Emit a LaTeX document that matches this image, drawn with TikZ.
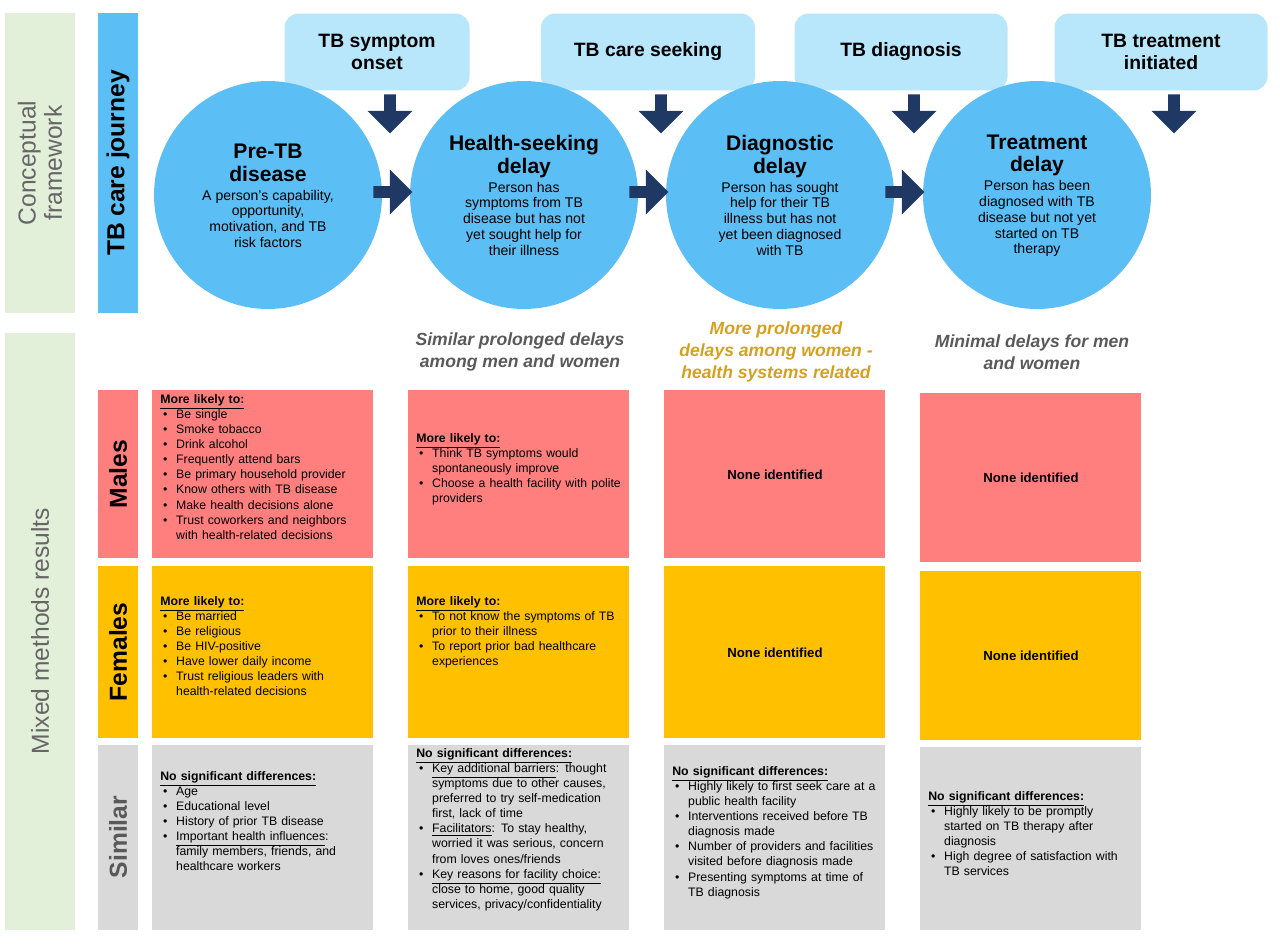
\documentclass[tikz,border=0pt]{standalone}
\usepackage{fontspec}
\setmainfont{Liberation Sans}
\usepackage{enumitem}
\usetikzlibrary{shapes.arrows}
\definecolor{sidegreen}{HTML}{E2EFD9}
\definecolor{journey}{HTML}{5BBEF5}
\definecolor{stagebox}{HTML}{B8E6FB}
\definecolor{navy}{HTML}{1F3864}
\definecolor{male}{HTML}{FF7F7F}
\definecolor{female}{HTML}{FFC000}
\definecolor{same}{HTML}{D9D9D9}
\definecolor{gold}{HTML}{D4A020}
\setlist[itemize]{nosep,leftmargin=9pt,label=\textbullet}
\tikzset{%
  band/.style    = {rotate=90, font=\fontsize{14}{15}\selectfont, text=gray!80!black, align=center},%
  rowlab/.style  = {rotate=90, font=\bfseries\fontsize{14}{15}\selectfont},%
  stage/.style   = {rounded corners=8pt, fill=stagebox, align=center,%
                    font=\bfseries\fontsize{11}{13}\selectfont},%
  phase/.style   = {circle, fill=journey, minimum size=4.56cm, inner sep=0pt, align=center,%
                    font=\fontsize{8}{9}\selectfont},%
  down/.style    = {single arrow, fill=navy, shape border rotate=270, minimum height=0.78cm,%
                    minimum width=0.9cm, single arrow head extend=0.12cm, inner sep=1pt},%
  fwd/.style     = {single arrow, fill=navy, minimum height=0.78cm,%
                    minimum width=0.9cm, single arrow head extend=0.12cm, inner sep=1pt},%
  colhead/.style = {align=center, font=\bfseries\itshape\fontsize{10}{12.5}\selectfont},%
  cell/.style    = {anchor=north west, text width=4.1cm, inner sep=0pt,%
                    font=\fontsize{7}{8.6}\selectfont},%
  none/.style    = {font=\bfseries\fontsize{7.5}{9}\selectfont}%
}
\newcommand{\hd}[1]{\textbf{\underline{#1}}}
\newcommand{\phtitle}[1]{{\bfseries\fontsize{12}{13}\selectfont\begin{tabular}{@{}c@{}}#1\end{tabular}}}
\begin{document}
\begin{tikzpicture}[x=0.02cm,y=-0.02cm]
	\useasboundingbox (0,0) rectangle (1280,944);
	% side bands
	\fill[sidegreen] (5,13) rectangle (75,313);
	\fill[sidegreen] (5,333) rectangle (75,930);
	\node[band] (cf) at (40,163) {Conceptual\\framework};
	\node[band] (mm) at (40,631) {Mixed methods results};
	\fill[journey] (98,13) rectangle (138,313);
	\node[rowlab] (tj) at (118,163) {TB care journey};
	\fill[male] (98,390) rectangle (138,558);
	\node[rowlab] (lm) at (118,474) {Males};
	\fill[female] (98,566) rectangle (138,738);
	\node[rowlab] (lf) at (118,652) {Females};
	\fill[same] (98,745) rectangle (138,930);
	\node[rowlab, text=gray!70!black] (ls) at (118,837) {Similar};
	% stages
	\foreach \x/\w/\t [count=\i] in {377/185/{TB symptom\\onset}, 648/214/TB care seeking,
	                               901/213/TB diagnosis, 1161/213/{TB treatment\\initiated}}{
		\node[stage, minimum width=\w*0.02cm, minimum height=1.54cm] (s\i) at (\x,52) {\t};
		\node[down] (d\i) at (\x+13,111) {};
	}
	% phases
	\node[phase] (p1) at (268,195) {\phtitle{Pre-TB\\disease}\\
		A person's capability,\\opportunity,\\motivation, and TB\\risk factors};
	\node[phase] (p2) at (524,195) {\phtitle{Health-seeking\\delay}\\
		Person has\\symptoms from TB\\disease but has not\\yet sought help for\\their illness};
	\node[phase] (p3) at (780,195) {\phtitle{Diagnostic\\delay}\\
		Person has sought\\help for their TB\\illness but has not\\yet been diagnosed\\with TB};
	\node[phase] (p4) at (1037,195) {\phtitle{Treatment\\delay}\\
		Person has been\\diagnosed with TB\\disease but not yet\\started on TB\\therapy};
	\node[fwd] (r1) at (390,192) {};
	\node[fwd] (r2) at (646,192) {};
	\node[fwd] (r3) at (902,192) {};
	% column headings
	\node[colhead, text=gray!70!black] (h2) at (520,352) {Similar prolonged delays\\among men and women};
	\node[colhead, text=gold] (h3) at (776,352) {More prolonged\\delays among women -\\health systems related};
	\node[colhead, text=gray!70!black] (h4) at (1032,352) {Minimal delays for men\\and women};
	% grid of cells
	\foreach \x in {152,408,664}{
		\fill[male] (\x,390) rectangle (\x+221,558);
		\fill[female] (\x,566) rectangle (\x+221,738);
		\fill[same] (\x,745) rectangle (\x+221,930);
	}
	\fill[male] (920,393) rectangle (1141,562);
	\fill[female] (920,571) rectangle (1141,740);
	\fill[same] (920,747) rectangle (1141,930);
	% males
	\node[cell] (m1) at (160,394) {\hd{More likely to:}
		\begin{itemize}\item Be single \item Smoke tobacco \item Drink alcohol
		\item Frequently attend bars \item Be primary household provider
		\item Know others with TB disease \item Make health decisions alone
		\item Trust coworkers and neighbors with health-related decisions\end{itemize}};
	\node[cell] (m2) at (416,433) {\hd{More likely to:}
		\begin{itemize}\item Think TB symptoms would spontaneously improve
		\item Choose a health facility with polite providers\end{itemize}};
	\node[none] (m3) at (775,475) {None identified};
	\node[none] (m4) at (1031,478) {None identified};
	% females
	\node[cell] (f1) at (160,596) {\hd{More likely to:}
		\begin{itemize}\item Be married \item Be religious \item Be HIV-positive
		\item Have lower daily income
		\item Trust religious leaders with health-related decisions\end{itemize}};
	\node[cell] (f2) at (416,596) {\hd{More likely to:}
		\begin{itemize}\item To not know the symptoms of TB prior to their illness
		\item To report prior bad healthcare experiences\end{itemize}};
	\node[none] (f3) at (775,653) {None identified};
	\node[none] (f4) at (1031,656) {None identified};
	% similar
	\node[cell] (q1) at (160,771) {\hd{No significant differences:}
		\begin{itemize}\item Age \item Educational level \item History of prior TB disease
		\item \underline{Important health influences}: family members, friends, and healthcare workers\end{itemize}};
	\node[cell] (q2) at (416,748) {\hd{No significant differences:}
		\begin{itemize}\item \underline{Key additional barriers}: thought symptoms due to other causes, preferred to try self-medication first, lack of time
		\item \underline{Facilitators}: To stay healthy, worried it was serious, concern from loves ones/friends
		\item \underline{Key reasons for facility choice:} close to home, good quality services, privacy/confidentiality\end{itemize}};
	\node[cell] (q3) at (672,766) {\hd{No significant differences:}
		\begin{itemize}\item Highly likely to first seek care at a public health facility
		\item Interventions received before TB diagnosis made
		\item Number of providers and facilities visited before diagnosis made
		\item Presenting symptoms at time of TB diagnosis\end{itemize}};
	\node[cell] (q4) at (928,791) {\hd{No significant differences:}
		\begin{itemize}\item Highly likely to be promptly started on TB therapy after diagnosis
		\item High degree of satisfaction with TB services\end{itemize}};
\end{tikzpicture}
\end{document}
